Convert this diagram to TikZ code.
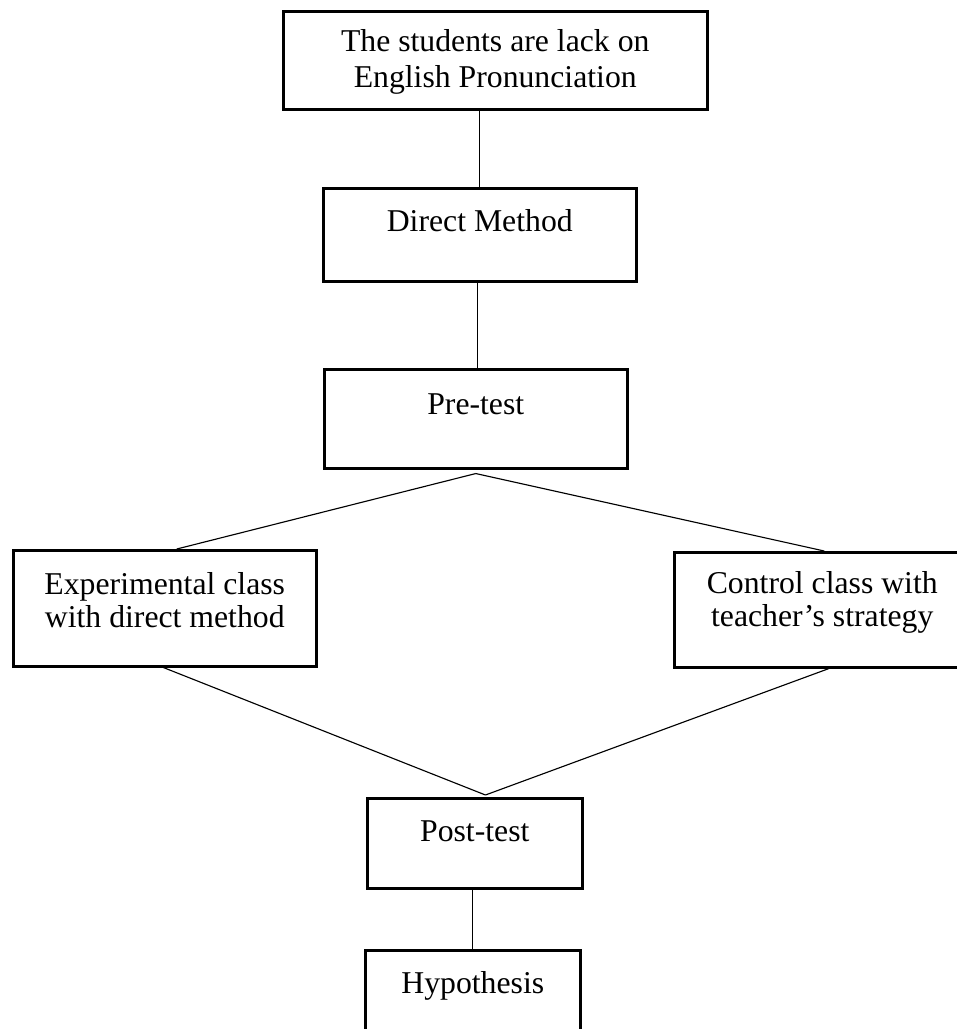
\documentclass[tikz,border=0pt]{standalone}
\usepackage{fontspec}
\setmainfont{Liberation Serif}
\begin{document}
\begin{tikzpicture}[x=0.75pt,y=-0.75pt,
  box/.style={draw=black,line width=1.9pt,rectangle,anchor=north west,inner sep=0pt,
    font=\fontsize{23.8pt}{25pt}\selectfont,align=center},
  onebox/.style={box},
  link/.style={draw=black,line width=0.85pt}]
\useasboundingbox (0,0) rectangle (957,1029);
\clip (0,0) rectangle (957,1029);
\fill[white] (0,0) rectangle (957,1029);

\node[box] (b1) at (282,10)
  {\parbox[b][73.5pt][t]{318pt}{\centering\fontsize{23.8pt}{27pt}\selectfont
   \rule{0pt}{30pt}The students are lack on\\English Pronunciation}};
\node[onebox,minimum width=234.75pt,text height=32.25pt,text depth=37.5pt] (b2) at (322,187) {Direct Method};
\node[onebox,minimum width=227.25pt,text height=33.75pt,text depth=40.5pt] (b3) at (323,368) {Pre-test};
\node[box] (b4) at (12,549)
  {\parbox[b][87pt][t]{227.25pt}{\centering\fontsize{23.8pt}{25pt}\selectfont
   \rule{0pt}{33pt}Experimental class\\with direct method}};
\node[box] (b5) at (673,551)
  {\parbox[b][86.25pt][t]{222pt}{\centering\fontsize{23.8pt}{25pt}\selectfont
   \rule{0pt}{30.75pt}Control class with\\teacher’s strategy}};
\node[onebox,minimum width=161.25pt,text height=32.25pt,text depth=35.25pt] (b6) at (366,797) {Post-test};
\node[onebox,minimum width=161.25pt,text height=32.25pt,text depth=35.25pt] (b7) at (364,949) {Hypothesis};

\coordinate (apex1) at ([yshift=-3pt]b3.south);
\coordinate (apex2) at ([xshift=8pt,yshift=1.5pt]b6.north);

\draw[link] (b2.north |- b1.south) -- (b2.north);
\draw[link] ([xshift=1pt]b3.north |- b2.south) -- ([xshift=1pt]b3.north);
\draw[link] (apex1) -- ([xshift=9pt]b4.north);
\draw[link] (apex1) -- ([xshift=1.5pt]b5.north);
\draw[link] ([xshift=-1pt]b4.south) -- (apex2);
\draw[link] ([xshift=5pt]b5.south) -- (apex2);
\draw[link] (b7.north |- b6.south) -- (b7.north);
\end{tikzpicture}
\end{document}
